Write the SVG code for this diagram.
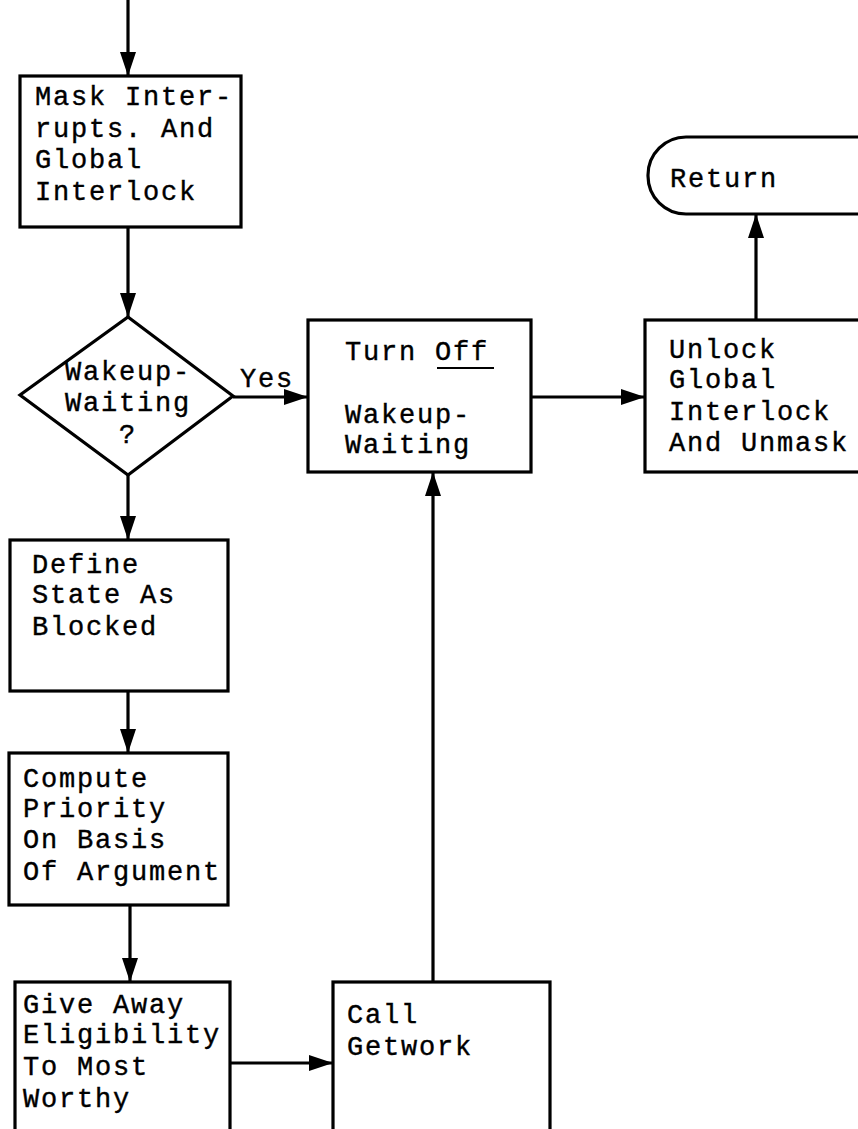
<svg xmlns="http://www.w3.org/2000/svg" width="858" height="1129" viewBox="0 0 858 1129">
  <style>
    .box { fill: #fff; stroke: #000; stroke-width: 3.2; }
    .edge { fill: none; stroke: #000; stroke-width: 3.2; }
    text { font-family: "Liberation Mono", "Courier New", monospace; font-size: 27px; letter-spacing: 1.8px; fill: #000; stroke: #000; stroke-width: 0.4; }
  </style>
  <defs>
    <marker id="arrow" viewBox="0 0 24 16" refX="24" refY="8" markerWidth="24" markerHeight="16" markerUnits="userSpaceOnUse" orient="auto">
      <path d="M0,0 L24,8 L0,16 Z" fill="#000"/>
    </marker>
  </defs>
  <rect width="858" height="1129" fill="#fff"/>

  <!-- connectors -->
  <g id="connectors">
    <line class="edge" x1="128" y1="0" x2="128" y2="76" marker-end="url(#arrow)"/>
    <line class="edge" x1="128" y1="227" x2="128" y2="317" marker-end="url(#arrow)"/>
    <line class="edge" x1="233" y1="397" x2="308" y2="397" marker-end="url(#arrow)"/>
    <line class="edge" x1="128" y1="475" x2="128" y2="540" marker-end="url(#arrow)"/>
    <line class="edge" x1="128" y1="691" x2="128" y2="753" marker-end="url(#arrow)"/>
    <line class="edge" x1="130" y1="905" x2="130" y2="982" marker-end="url(#arrow)"/>
    <line class="edge" x1="230" y1="1063" x2="333" y2="1063" marker-end="url(#arrow)"/>
    <line class="edge" x1="433" y1="982" x2="433" y2="472" marker-end="url(#arrow)"/>
    <line class="edge" x1="531" y1="397" x2="645" y2="397" marker-end="url(#arrow)"/>
    <line class="edge" x1="756" y1="320" x2="756" y2="214" marker-end="url(#arrow)"/>
    <text x="240" y="387">Yes</text>
  </g>

  <!-- mask interrupts -->
  <g id="mask">
    <rect class="box" x="20" y="76" width="221" height="151"/>
    <text x="35" y="105">Mask Inter-</text>
    <text x="35" y="137">rupts. And</text>
    <text x="35" y="168">Global</text>
    <text x="35" y="200">Interlock</text>
  </g>

  <!-- decision -->
  <g id="decision">
    <polygon class="box" points="128,317 233,396 128,475 20,395"/>
    <text x="65" y="380">Wakeup-</text>
    <text x="65" y="411">Waiting</text>
    <text x="128" y="443" text-anchor="middle">?</text>
  </g>

  <!-- turn off wakeup-waiting -->
  <g id="turnoff">
    <rect class="box" x="308" y="320" width="223" height="152"/>
    <text x="345" y="360">Turn Off</text>
    <line x1="437" y1="368" x2="494" y2="368" stroke="#000" stroke-width="2"/>
    <text x="345" y="423">Wakeup-</text>
    <text x="345" y="453">Waiting</text>
  </g>

  <!-- unlock -->
  <g id="unlock">
    <rect class="box" x="645" y="320" width="230" height="152"/>
    <text x="669" y="358">Unlock</text>
    <text x="669" y="388">Global</text>
    <text x="669" y="420">Interlock</text>
    <text x="669" y="451">And Unmask</text>
  </g>

  <!-- return -->
  <g id="return">
    <rect class="box" x="648" y="137" width="260" height="77" rx="38" ry="38"/>
    <text x="670" y="187">Return</text>
  </g>

  <!-- define state -->
  <g id="define">
    <rect class="box" x="10" y="540" width="218" height="151"/>
    <text x="32" y="573">Define</text>
    <text x="32" y="603">State As</text>
    <text x="32" y="635">Blocked</text>
  </g>

  <!-- compute priority -->
  <g id="compute">
    <rect class="box" x="9" y="753" width="219" height="152"/>
    <text x="23" y="787">Compute</text>
    <text x="23" y="817">Priority</text>
    <text x="23" y="848">On Basis</text>
    <text x="23" y="880">Of Argument</text>
  </g>

  <!-- give away eligibility -->
  <g id="giveaway">
    <rect class="box" x="15" y="982" width="215" height="160"/>
    <text x="23" y="1013">Give Away</text>
    <text x="23" y="1043">Eligibility</text>
    <text x="23" y="1075">To Most</text>
    <text x="23" y="1107">Worthy</text>
  </g>

  <!-- call getwork -->
  <g id="getwork">
    <rect class="box" x="333" y="982" width="217" height="160"/>
    <text x="347" y="1023">Call</text>
    <text x="347" y="1055">Getwork</text>
  </g>
</svg>
